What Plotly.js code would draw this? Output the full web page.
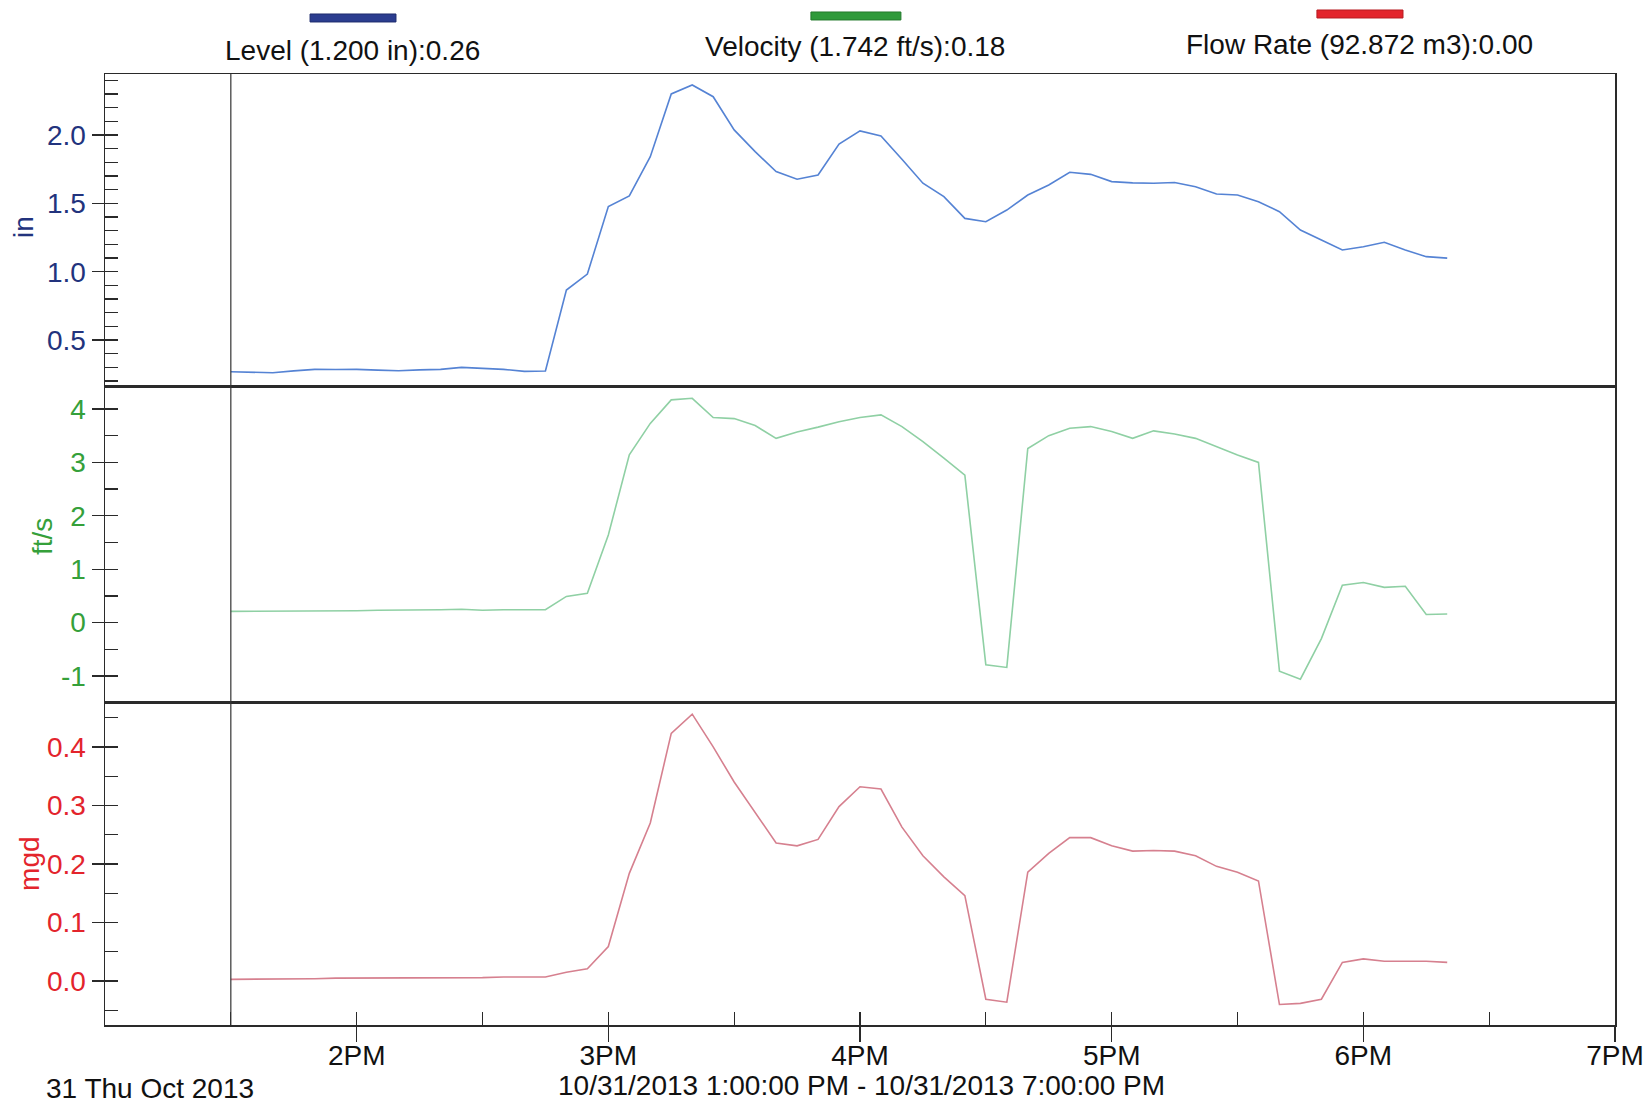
<!DOCTYPE html>
<html>
<head>
<meta charset="utf-8">
<script src="https://cdn.plot.ly/plotly-3.0.1.min.js"></script>
<style>
  html, body { margin: 0; padding: 0; background: #ffffff; }
  #chart { width: 1652px; height: 1105px; }
</style>
</head>
<body>
<div id="chart"></div>
<script>
// ---------------- data ----------------
const DAY = "2013-10-31 ";
const times = [
  "13:30","13:35","13:40","13:45","13:50","13:55",
  "14:00","14:05","14:10","14:15","14:20","14:25","14:30","14:35","14:40","14:45","14:50","14:55",
  "15:00","15:05","15:10","15:15","15:20","15:25","15:30","15:35","15:40","15:45","15:50","15:55",
  "16:00","16:05","16:10","16:15","16:20","16:25","16:30","16:35","16:40","16:45","16:50","16:55",
  "17:00","17:05","17:10","17:15","17:20","17:25","17:30","17:35","17:40","17:45","17:50","17:55",
  "18:00","18:05","18:10","18:15","18:20"
];
const levelIn = [
  0.268,0.262,0.261,0.275,0.286,0.285,
  0.286,0.280,0.276,0.282,0.286,0.300,0.295,0.286,0.271,0.274,0.866,0.983,
  1.476,1.554,1.841,2.300,2.366,2.280,2.037,1.878,1.732,1.676,1.707,1.934,
  2.030,1.993,1.822,1.647,1.549,1.390,1.366,1.451,1.561,1.634,1.727,1.712,
  1.659,1.650,1.647,1.652,1.622,1.568,1.561,1.512,1.439,1.305,1.232,1.159,
  1.183,1.215,1.159,1.110,1.099
];
const velocityFts = [
  0.21,0.21,0.21,0.22,0.22,0.22,
  0.22,0.23,0.23,0.23,0.24,0.25,0.23,0.24,0.24,0.24,0.49,0.55,
  1.64,3.14,3.73,4.17,4.20,3.84,3.82,3.69,3.45,3.57,3.66,3.76,
  3.84,3.89,3.67,3.39,3.08,2.76,-0.79,-0.84,3.26,3.50,3.64,3.67,
  3.58,3.45,3.59,3.53,3.45,3.29,3.14,3.00,-0.91,-1.06,-0.30,0.70,
  0.75,0.66,0.68,0.15,0.16
];
const flowMgd = [
  0.003,0.003,0.003,0.004,0.004,0.005,
  0.005,0.005,0.005,0.006,0.006,0.006,0.006,0.007,0.007,0.007,0.015,0.021,
  0.059,0.184,0.270,0.423,0.456,0.400,0.340,0.289,0.236,0.231,0.242,0.298,
  0.332,0.328,0.263,0.214,0.178,0.146,-0.031,-0.036,0.186,0.218,0.245,0.245,
  0.231,0.222,0.223,0.222,0.214,0.196,0.186,0.171,-0.040,-0.038,-0.031,0.032,
  0.038,0.034,0.034,0.034,0.032
];
const hourTickVals = ["14:00","15:00","16:00","17:00","18:00","19:00"];
const hourTickText = ["2PM","3PM","4PM","5PM","6PM","7PM"];
const levelTickVals = [0.5, 1.0, 1.5, 2.0];
const levelTickText = ["0.5", "1.0", "1.5", "2.0"];
const velocityTickVals = [-1, 0, 1, 2, 3, 4];
const velocityTickText = ["-1", "0", "1", "2", "3", "4"];
const flowTickVals = [0.0, 0.1, 0.2, 0.3, 0.4];
const flowTickText = ["0.0", "0.1", "0.2", "0.3", "0.4"];
const legendLabels = ["Level (1.200 in):0.26", "Velocity (1.742 ft/s):0.18", "Flow Rate (92.872 m3):0.00"];
const unitLabels = ["in", "ft/s", "mgd"];
const dateLabel = "31 Thu Oct 2013";
const rangeLabel = "10/31/2013 1:00:00 PM - 10/31/2013 7:00:00 PM";
const dataStart = "13:30";

// ---------------- styles ----------------
const FONT = "Liberation Sans, Arial, sans-serif";
const FS = 28;
const NAVY = "#22337d", GREEN = "#35a03a", RED = "#e3242c";
const AX = "#2a2a2a";
const xs = times.map(t => DAY + t);
const xRange = [DAY + "13:00", DAY + "19:00"];

const traces = [
  { x: xs, y: levelIn, type: "scatter", mode: "lines", xaxis: "x", yaxis: "y",
    line: { color: "#5583d4", width: 1.6 }, hoverinfo: "skip" },
  { x: xs, y: velocityFts, type: "scatter", mode: "lines", xaxis: "x2", yaxis: "y2",
    line: { color: "#8fd0a4", width: 1.6 }, hoverinfo: "skip" },
  { x: xs, y: flowMgd, type: "scatter", mode: "lines", xaxis: "x3", yaxis: "y3",
    line: { color: "#d6808f", width: 1.6 }, hoverinfo: "skip" },
  // empty helpers so the inside-tick overlay axes are drawn
  { x: [], y: [], type: "scatter", xaxis: "x", yaxis: "y4", showlegend: false },
  { x: [], y: [], type: "scatter", xaxis: "x2", yaxis: "y5", showlegend: false },
  { x: [], y: [], type: "scatter", xaxis: "x4", yaxis: "y6", showlegend: false }
];

const D1 = [0.6709, 1], D2 = [0.3386, 0.6709], D3 = [0, 0.3386];

function frameX(anchor) {
  return { anchor: anchor, domain: [0, 1], range: xRange, type: "date",
    showline: true, mirror: true, linecolor: AX, linewidth: 1.5,
    showgrid: false, zeroline: false, ticks: "", showticklabels: false, fixedrange: true };
}
function mainY(anchor, domain, range, vals, text, color) {
  return { anchor: anchor, domain: domain, range: range,
    tickmode: "array", tickvals: vals, ticktext: text,
    showline: true, mirror: true, linecolor: AX, linewidth: 1.5,
    showgrid: false, zeroline: false, ticks: "outside", ticklen: 12, tickwidth: 1.3, tickcolor: AX,
    tickfont: { family: FONT, size: FS, color: color }, fixedrange: true };
}
function insideY(anchor, over, range, dtick) {
  return { anchor: anchor, overlaying: over, range: range, dtick: dtick, tick0: 0,
    showline: false, showgrid: false, zeroline: false, ticks: "inside", ticklen: 13,
    tickwidth: 1.3, tickcolor: AX, showticklabels: false, fixedrange: true };
}

const rTop = [0.157, 2.446], rMid = [-1.506, 4.412], rBot = [-0.075, 0.475];

const layout = {
  width: 1652, height: 1105,
  margin: { l: 105, r: 37, t: 74, b: 80 },
  paper_bgcolor: "#ffffff", plot_bgcolor: "#ffffff",
  showlegend: false,
  font: { family: FONT, size: FS, color: "#111" },
  xaxis: frameX("y"),
  xaxis2: frameX("y2"),
  xaxis3: Object.assign(frameX("y3"), {
    ticks: "outside", ticklen: 15, tickwidth: 1.3, tickcolor: AX,
    tickmode: "array", tickvals: hourTickVals.map(t => DAY + t), ticktext: hourTickText,
    showticklabels: true, ticklabelstandoff: -10,
    tickfont: { family: FONT, size: FS, color: "#111" }
  }),
  xaxis4: { anchor: "y3", overlaying: "x3", range: xRange, type: "date",
    showline: false, showgrid: false, zeroline: false, ticks: "inside", ticklen: 13,
    tickwidth: 1.3, tickcolor: AX, tickmode: "linear", tick0: DAY + "13:00", dtick: 1800000,
    showticklabels: false, fixedrange: true },
  yaxis: mainY("x", D1, rTop, levelTickVals, levelTickText, NAVY),
  yaxis2: mainY("x2", D2, rMid, velocityTickVals, velocityTickText, GREEN),
  yaxis3: mainY("x3", D3, rBot, flowTickVals, flowTickText, RED),
  yaxis4: insideY("x", "y", rTop, 0.1),
  yaxis5: insideY("x2", "y2", rMid, 0.5),
  yaxis6: insideY("x4", "y3", rBot, 0.05),
  shapes: [
    { type: "line", xref: "x", yref: "paper", x0: DAY + dataStart, x1: DAY + dataStart, y0: 0, y1: 1,
      line: { color: "#333", width: 1.2 } },
    { type: "rect", xref: "paper", yref: "paper", x0: 0.1358, x1: 0.1927, y0: 1.0547, y1: 1.0631,
      fillcolor: "#2b3d8f", line: { color: "#1e2c6e", width: 1 } },
    { type: "rect", xref: "paper", yref: "paper", x0: 0.4675, x1: 0.5271, y0: 1.0568, y1: 1.0652,
      fillcolor: "#2f9a3a", line: { color: "#237a2c", width: 1 } },
    { type: "rect", xref: "paper", yref: "paper", x0: 0.8026, x1: 0.8596, y0: 1.0589, y1: 1.0673,
      fillcolor: "#e3242c", line: { color: "#b71c22", width: 1 } }
  ],
  annotations: [
    { text: legendLabels[0], xref: "paper", yref: "paper", x: 0.1642, y: 1.0252, xanchor: "center", yanchor: "middle",
      showarrow: false, font: { family: FONT, size: FS, color: "#111" } },
    { text: legendLabels[1], xref: "paper", yref: "paper", x: 0.4967, y: 1.0284, xanchor: "center", yanchor: "middle",
      showarrow: false, font: { family: FONT, size: FS, color: "#111" } },
    { text: legendLabels[2], xref: "paper", yref: "paper", x: 0.8305, y: 1.0305, xanchor: "center", yanchor: "middle",
      showarrow: false, font: { family: FONT, size: FS, color: "#111" } },
    { text: unitLabels[0], xref: "paper", yref: "paper", x: -0.0543, y: 0.8391, xanchor: "center", yanchor: "middle",
      textangle: -90, showarrow: false, font: { family: FONT, size: FS, color: NAVY } },
    { text: unitLabels[1], xref: "paper", yref: "paper", x: -0.0417, y: 0.5131, xanchor: "center", yanchor: "middle",
      textangle: -90, showarrow: false, font: { family: FONT, size: FS, color: GREEN } },
    { text: unitLabels[2], xref: "paper", yref: "paper", x: -0.0497, y: 0.1693, xanchor: "center", yanchor: "middle",
      textangle: -90, showarrow: false, font: { family: FONT, size: FS, color: RED } },
    { text: dateLabel, xref: "paper", yref: "paper", x: -0.0404, y: -0.0668, xanchor: "left", yanchor: "middle",
      showarrow: false, font: { family: FONT, size: FS, color: "#111" } },
    { text: rangeLabel, xref: "paper", yref: "paper", x: 0.5013, y: -0.0631, xanchor: "center", yanchor: "middle",
      showarrow: false, font: { family: FONT, size: FS, color: "#111" } }
  ]
};

Plotly.newPlot("chart", traces, layout, { staticPlot: true, displayModeBar: false });
</script>
</body>
</html>
